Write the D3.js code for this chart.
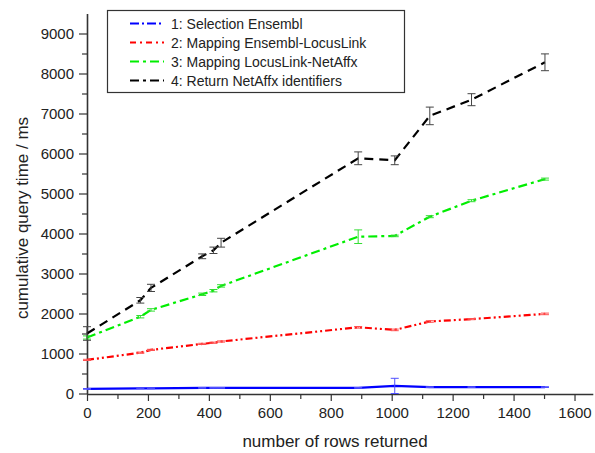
<!DOCTYPE html>
<html>
<head>
<meta charset="utf-8">
<script src="https://cdn.jsdelivr.net/npm/d3@7"></script>
<style>
  html, body { margin: 0; padding: 0; background: #fff; }
  svg text { font-family: "Liberation Sans", Arial, sans-serif; fill: #222; }
</style>
</head>
<body>
<svg id="chart" width="595" height="453"></svg>
<script>
// ---- data ----
const rows = [0, 175, 210, 378, 415, 440, 890, 1010, 1125, 1262, 1503];
const seriesNames = [
  "1: Selection Ensembl",
  "2: Mapping Ensembl-LocusLink",
  "3: Mapping LocusLink-NetAffx",
  "4: Return NetAffx identifiers"
];
const selectionEnsembl = [115, 130, 130, 140, 140, 140, 140, 190, 160, 160, 160];
const selectionErr     = [10, 10, 10, 10, 10, 10, 10, 190, 10, 10, 10];
const mappingEL        = [840, 1020, 1090, 1240, 1270, 1300, 1655, 1590, 1800, 1860, 1990];
const mappingELErr     = [15, 15, 15, 15, 15, 15, 20, 20, 20, 15, 20];
const mappingLN        = [1400, 1920, 2090, 2480, 2570, 2690, 3920, 3940, 4420, 4820, 5360];
const mappingLNErr     = [40, 30, 30, 30, 30, 30, 170, 20, 25, 25, 25];
const returnNA         = [1500, 2330, 2640, 3430, 3580, 3770, 5880, 5830, 6940, 7345, 8280];
const returnNAErr      = [170, 70, 90, 60, 80, 110, 160, 110, 220, 150, 210];
const xTicks = [0, 200, 400, 600, 800, 1000, 1200, 1400, 1600];
const yTicks = [0, 1000, 2000, 3000, 4000, 5000, 6000, 7000, 8000, 9000];

const seriesValues = [selectionEnsembl, mappingEL, mappingLN, returnNA];
const seriesErrs = [selectionErr, mappingELErr, mappingLNErr, returnNAErr];
const colors = ["#0000ff", "#ff0000", "#00ee00", "#000000"];
const errColors = ["#5050ff", "#ff5050", "#33dd33", "#444444"];
const dashes = ["none", "7,3,2,3,2,3", "9,4,3,4", "9,6"];
const legendDashes = ["9,3,2,3", "6,4,2,4", "9,4,3,4", "9,4,3,4"];

// ---- layout ----
const svg = d3.select("#chart");
const x = d3.scaleLinear().domain([0, 1660]).range([87, 592.8]);
const y = d3.scaleLinear().domain([0, 9500]).range([393.5, 13.5]);

// axes
const xAxis = d3.axisBottom(x).tickValues(xTicks).tickSize(7).tickSizeOuter(0).tickPadding(6).tickFormat(d3.format("d"));
const gx = svg.append("g").attr("transform", `translate(0,${y(0) + 0.5})`).call(xAxis);
const xMinor = d3.axisBottom(x).tickValues(d3.range(100, 1700, 200)).tickSize(5).tickFormat("").tickSizeOuter(0);
svg.append("g").attr("transform", `translate(0,${y(0) + 0.5})`).call(xMinor).select(".domain").remove();

const yAxis = d3.axisLeft(y).tickValues(yTicks).tickSize(8).tickSizeOuter(0).tickPadding(5).tickFormat(d3.format("d"));
const gy = svg.append("g").attr("transform", `translate(87,0)`).call(yAxis);
const yMinor = d3.axisLeft(y).tickValues(d3.range(500, 9500, 1000)).tickSize(5).tickFormat("").tickSizeOuter(0);
svg.append("g").attr("transform", `translate(87,0)`).call(yMinor).select(".domain").remove();

svg.selectAll(".domain").attr("stroke", "#333").attr("stroke-width", 1.6);
svg.selectAll(".tick line").attr("stroke", "#333").attr("stroke-width", 1.2);
svg.selectAll(".tick text").attr("font-size", 15).attr("fill", "#222")
   .style("font-family", '"Liberation Sans", Arial, sans-serif');

// axis titles
svg.append("text").attr("x", 335).attr("y", 447).attr("text-anchor", "middle")
   .attr("font-size", 17).text("number of rows returned");
svg.append("text").attr("transform", "translate(28,218) rotate(-90)").attr("text-anchor", "middle")
   .attr("font-size", 17).text("cumulative query time / ms");

// lines
const line = d3.line().x((d, i) => x(rows[i])).y(d => y(d));
seriesValues.forEach((vals, s) => {
  svg.append("path").datum(vals).attr("d", line)
     .attr("fill", "none").attr("stroke", colors[s]).attr("stroke-width", 2.2)
     .attr("stroke-dasharray", dashes[s]);
  // error bars
  const g = svg.append("g").attr("stroke", errColors[s]).attr("stroke-width", 1);
  vals.forEach((v, i) => {
    const e = seriesErrs[s][i];
    const cx = x(rows[i]);
    g.append("line").attr("x1", cx).attr("x2", cx).attr("y1", y(v - e)).attr("y2", y(v + e));
    g.append("line").attr("x1", cx - 4).attr("x2", cx + 4).attr("y1", y(v - e)).attr("y2", y(v - e));
    g.append("line").attr("x1", cx - 4).attr("x2", cx + 4).attr("y1", y(v + e)).attr("y2", y(v + e));
  });
});

// legend
const lg = svg.append("g");
lg.append("rect").attr("x", 107.5).attr("y", 10.5).attr("width", 297).attr("height", 82)
  .attr("fill", "#fff").attr("stroke", "#333").attr("stroke-width", 1.2);
seriesNames.forEach((name, i) => {
  const yy = 23.5 + i * 19;
  lg.append("line").attr("x1", 130).attr("x2", 164).attr("y1", yy).attr("y2", yy)
    .attr("stroke", colors[i]).attr("stroke-width", 2).attr("stroke-dasharray", legendDashes[i]);
  lg.append("text").attr("x", 171).attr("y", yy + 5).attr("font-size", 14).text(name);
});
</script>
</body>
</html>
